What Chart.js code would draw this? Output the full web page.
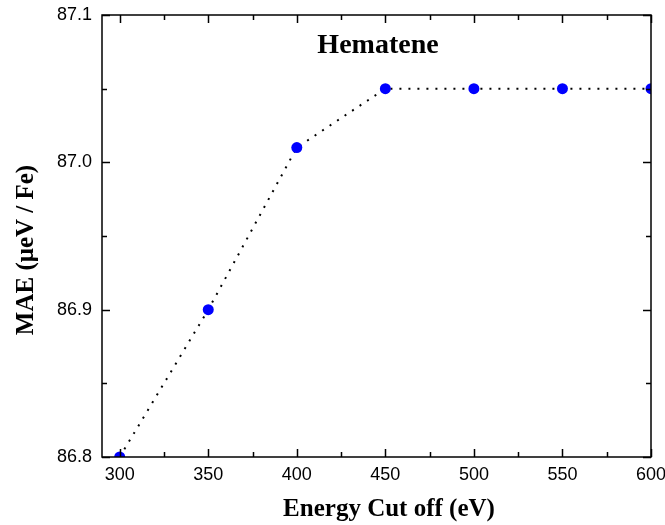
<!DOCTYPE html>
<html>
<head>
<meta charset="utf-8">
<script src="https://cdn.jsdelivr.net/npm/chart.js@4/dist/chart.umd.min.js"></script>
<style>
  html, body { margin: 0; padding: 0; background: #fff; }
  #wrap { width: 665px; height: 525px; }
</style>
</head>
<body>
<div id="wrap"><canvas id="mae"></canvas></div>
<script>
// data
const cutoffs = [300, 350, 400, 450, 500, 550, 600];
const maeValues = [86.8, 86.9, 87.01, 87.05, 87.05, 87.05, 87.05];

// axis ticks
const xMajorTicks = [300, 350, 400, 450, 500, 550, 600];
const xMinorTicks = [325, 375, 425, 475, 525, 575];
const yMajorTicks = [86.8, 86.9, 87.0, 87.1];
const yMinorTicks = [86.85, 86.95, 87.05];

const SERIF = "'Liberation Serif', 'Times New Roman', serif";
const SANS = "'Liberation Sans', Arial, sans-serif";

// frame, inward ticks and the text labels (Origin style)
const framePlugin = {
  id: 'frame',
  afterDatasetsDraw(chart) {
    const { ctx, chartArea: a, scales: { x, y } } = chart;
    ctx.save();
    ctx.strokeStyle = '#000';
    ctx.lineWidth = 1.5;
    ctx.strokeRect(a.left, a.top, a.right - a.left, a.bottom - a.top);

    ctx.beginPath();
    const xt = (list, len) => list.forEach(v => {
      const px = Math.round(x.getPixelForValue(v)) + 0.5;
      ctx.moveTo(px, a.bottom); ctx.lineTo(px, a.bottom - len);
      ctx.moveTo(px, a.top); ctx.lineTo(px, a.top + len);
    });
    const yt = (list, len) => list.forEach(v => {
      const py = Math.round(y.getPixelForValue(v)) + 0.5;
      ctx.moveTo(a.left, py); ctx.lineTo(a.left + len, py);
      ctx.moveTo(a.right, py); ctx.lineTo(a.right - len, py);
    });
    xt(xMajorTicks, 8); xt(xMinorTicks, 5);
    yt(yMajorTicks, 8); yt(yMinorTicks, 5);
    ctx.stroke();

    ctx.fillStyle = '#000';
    ctx.textAlign = 'center';
    ctx.textBaseline = 'alphabetic';
    ctx.font = 'bold 28px ' + SERIF;
    ctx.fillText('Hematene', 378, 53);

    ctx.font = 'bold 25px ' + SERIF;
    ctx.fillText('Energy Cut off (eV)', 389, 516);

    ctx.translate(33, 250);
    ctx.rotate(-Math.PI / 2);
    ctx.fillText('MAE (\u03BCeV / Fe)', 0, 0);
    ctx.restore();
  }
};

new Chart(document.getElementById('mae'), {
  type: 'line',
  data: {
    labels: cutoffs,
    datasets: [{
      data: cutoffs.map((c, i) => ({ x: c, y: maeValues[i] })),
      borderColor: '#000',
      borderWidth: 2,
      borderDash: [2, 7],
      backgroundColor: '#0000ff',
      pointBackgroundColor: '#0000ff',
      pointBorderColor: '#0000ff',
      pointRadius: 5.5,
      pointBorderWidth: 0,
      tension: 0,
      clip: 0
    }]
  },
  options: {
    responsive: true,
    maintainAspectRatio: false,
    animation: false,
    layout: { padding: { left: 0, right: 14, top: 15, bottom: 0 } },
    plugins: { legend: { display: false }, tooltip: { enabled: false } },
    scales: {
      x: {
        type: 'linear',
        min: 290,
        max: 600,
        grid: { display: false, drawTicks: false },
        border: { display: false },
        afterBuildTicks: (s) => { s.ticks = xMajorTicks.map(v => ({ value: v })); },
        afterFit: (s) => { s.height = 68; s.paddingLeft = 0; s.paddingRight = 0; },
        ticks: {
          color: '#000',
          padding: 7,
          maxRotation: 0,
          font: { family: SANS, size: 18 },
          callback: (v) => String(v)
        }
      },
      y: {
        min: 86.8,
        max: 87.1,
        grid: { display: false, drawTicks: false },
        border: { display: false },
        afterBuildTicks: (s) => { s.ticks = yMajorTicks.map(v => ({ value: v })); },
        afterFit: (s) => { s.width = 102; s.paddingTop = 0; s.paddingBottom = 0; },
        ticks: {
          color: '#000',
          padding: 10,
          font: { family: SANS, size: 18 },
          callback: (v) => Number(v).toFixed(1)
        }
      }
    }
  },
  plugins: [framePlugin]
});
</script>
</body>
</html>
